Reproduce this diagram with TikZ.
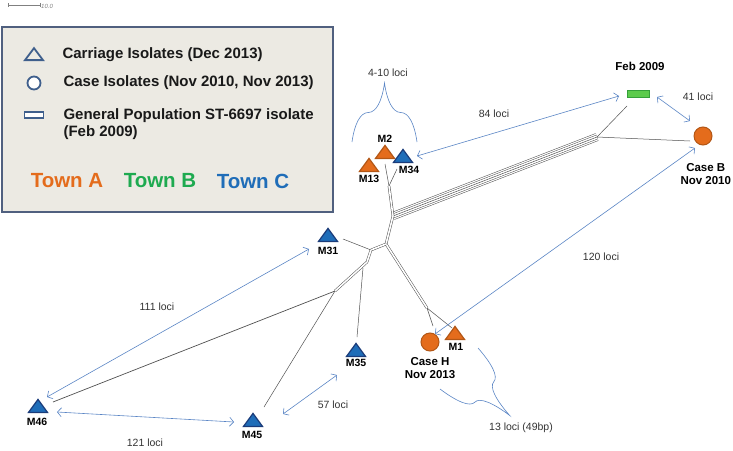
\documentclass[tikz,border=0pt]{standalone}
\usepackage{fontspec}
\setmainfont{Liberation Sans}
\usetikzlibrary{shapes.geometric,arrows.meta,decorations.pathreplacing}
\definecolor{legendbg}{HTML}{ECEAE3}
\definecolor{legendframe}{HTML}{50607F}
\definecolor{symframe}{HTML}{3F5F8C}
\definecolor{towna}{HTML}{E46C1C}
\definecolor{townadark}{HTML}{B35716}
\definecolor{townb}{HTML}{1EAA50}
\definecolor{townc}{HTML}{1F6DB8}
\definecolor{towncdark}{HTML}{1B3C7A}
\definecolor{febgreen}{HTML}{5CCB4C}
\definecolor{febdark}{HTML}{35A03A}
\definecolor{arrowblue}{HTML}{5A85C5}
\definecolor{splitgray}{HTML}{505050}

\begin{document}
\begin{tikzpicture}
    [x=1pt, y=-1pt,
    tri/.style={isosceles triangle, isosceles triangle apex angle=70,
        isosceles triangle stretches, shape border rotate=90,
        minimum width=19pt, minimum height=13pt, inner sep=0pt,
        anchor=lower side, line width=1.2pt},
    towna tri/.style={tri, fill=towna, draw=townadark},
    townc tri/.style={tri, fill=townc, draw=towncdark},
    case/.style={circle, minimum size=18pt, inner sep=0pt, fill=towna,
        draw=townadark, line width=1pt},
    mlabel/.style={font=\fontsize{10.5}{12}\selectfont\bfseries},
    caselabel/.style={font=\fontsize{11.5}{13.5}\selectfont\bfseries, align=center},
    loci/.style={font=\fontsize{10.5}{12}\selectfont, text=black!80},
    legendtext/.style={font=\fontsize{15}{17}\selectfont\bfseries, anchor=west,
        align=left, text=black!90},
    towntext/.style={font=\fontsize{20.5}{23}\selectfont\bfseries},
    split/.style={draw=splitgray, line width=0.5pt},
    band/.style={split, double=white, double distance=1.6pt},
    distarrow/.style={draw=arrowblue, line width=0.6pt,
        {Straight Barb[length=4pt,width=9pt]}-{Straight Barb[length=4pt,width=9pt]}},
    lociBrace/.style={draw=arrowblue, line width=0.6pt, decorate}]
    \useasboundingbox (0,0) rectangle (733,450);
    % scale bar
    \draw[gray, line width=0.4pt] (8,5) -- (40,5);
    \draw[gray, line width=0.4pt] (8,3) -- (8,7);
    \draw[gray, line width=0.4pt] (40,3) -- (40,7);
    \node[anchor=west, inner sep=0pt, text=gray, font=\fontsize{6}{7}\selectfont\itshape]
        (scale) at (41,6) {10.0};
    % legend
    \draw[fill=legendbg, draw=legendframe, line width=2pt] (1.5,27) rectangle (333,212);
    \node[tri, draw=symframe, fill=legendbg, minimum width=18pt, minimum height=12pt,
        line width=1.8pt] (keytri) at (34,61) {};
    \node[circle, draw=symframe, fill=white, minimum size=13pt, inner sep=0pt,
        line width=1.8pt] (keycirc) at (34,83) {};
    \node[draw=symframe, fill=white, minimum width=19pt, minimum height=6pt,
        inner sep=0pt, line width=1.8pt] (keyrect) at (34,115) {};
    \node[legendtext] (carriage) at (59,55) {Carriage Isolates (Dec 2013)};
    \node[legendtext] (caseiso) at (60,83) {Case Isolates (Nov 2010, Nov 2013)};
    \node[legendtext] (genpop) at (60,124) {General Population ST-6697 isolate\\(Feb 2009)};
    \node[towntext, text=towna] (towna) at (67,181) {Town A};
    \node[towntext, text=townb] (townb) at (160,181) {Town B};
    \node[towntext, text=townc] (townc) at (253,181) {Town C};
    % isolates
    \node[towna tri] (m2) at (385,159) {};
    \node[towna tri] (m13) at (369,172) {};
    \node[townc tri] (m34) at (403,163) {};
    \node[townc tri] (m31) at (328,242) {};
    \node[townc tri] (m35) at (356,357) {};
    \node[towna tri] (m1) at (455,340) {};
    \node[townc tri] (m46) at (38,413) {};
    \node[townc tri] (m45) at (253,427) {};
    \node[case] (caseh) at (430,342) {};
    \node[case] (caseb) at (703,136) {};
    \node[draw=febdark, fill=febgreen, minimum width=22pt, minimum height=7pt,
        inner sep=0pt, line width=1pt] (feb) at (638,94) {};
    % labels
    \node[mlabel] (m2lab) at (385,139) {M2};
    \node[mlabel] (m13lab) at (369,179) {M13};
    \node[mlabel] (m34lab) at (409,170) {M34};
    \node[mlabel] (m31lab) at (328,251) {M31};
    \node[mlabel] (m35lab) at (356,363) {M35};
    \node[mlabel] (m1lab) at (456,347) {M1};
    \node[mlabel] (m46lab) at (37,422) {M46};
    \node[mlabel] (m45lab) at (252,435) {M45};
    \node[caselabel] (casehlab) at (430,368) {Case H\\Nov 2013};
    \node[caselabel, anchor=west] (caseblab) at (677,174) {Case B\\Nov 2010};
    \node[caselabel] (feblab) at (640,66) {Feb 2009};
    % split network
    \coordinate (hub) at (393,216);
    \coordinate (rj) at (597,137);
    \coordinate (febleaf) at (627,106);
    \coordinate (cbleaf) at (690,141);
    \coordinate (cj) at (389,186);
    \coordinate (m2leaf) at (385,164);
    \coordinate (m34leaf) at (397,169);
    \coordinate (h2) at (386,244);
    \coordinate (jj) at (427,308);
    \coordinate (chleaf) at (433,326);
    \coordinate (m1leaf) at (452,328);
    \coordinate (kk) at (371,250);
    \coordinate (m31leaf) at (343,239);
    \coordinate (k2) at (367,262);
    \coordinate (m35j) at (363,268);
    \coordinate (m35leaf) at (357,337);
    \coordinate (qq) at (335,291);
    \coordinate (m46leaf) at (53,402);
    \coordinate (m45leaf) at (264,407);
    \draw[split, double=white, double distance=7pt] (hub) -- (rj);
    \draw[split, double=white, double distance=3.5pt] (hub) -- (rj);
    \draw[split] (hub) -- (rj);
    \draw[split] (rj) -- (febleaf);
    \draw[split] (rj) -- (cbleaf);
    \draw[band] (hub) -- (cj);
    \draw[split] (cj) -- (m2leaf);
    \draw[split] (cj) -- (m34leaf);
    \draw[band] (hub) -- (h2);
    \draw[band] (h2) -- (jj);
    \draw[split] (jj) -- (chleaf);
    \draw[split] (jj) -- (m1leaf);
    \draw[band] (h2) -- (kk);
    \draw[split] (kk) -- (m31leaf);
    \draw[band] (kk) -- (k2);
    \draw[band] (k2) -- (qq);
    \draw[split] (m35j) -- (m35leaf);
    \draw[split, line width=0.7pt] (qq) -- (m46leaf);
    \draw[split] (qq) -- (m45leaf);
    % distances
    \coordinate (a84s) at (417,156);
    \coordinate (a84e) at (619,96);
    \coordinate (a41s) at (657,97);
    \coordinate (a41e) at (690,121);
    \coordinate (a120s) at (435,334);
    \coordinate (a120e) at (695,148);
    \coordinate (a111s) at (47,397);
    \coordinate (a111e) at (309,249);
    \coordinate (a121s) at (57,412);
    \coordinate (a121e) at (234,422);
    \coordinate (a57s) at (283,414);
    \coordinate (a57e) at (337,375);
    \draw[distarrow] (a84s) -- (a84e);
    \draw[distarrow] (a41s) -- (a41e);
    \draw[distarrow] (a120s) -- (a120e);
    \draw[distarrow] (a111s) -- (a111e);
    \draw[distarrow] (a121s) -- (a121e);
    \draw[distarrow] (a57s) -- (a57e);
    \node[loci] (l84) at (494,114) {84 loci};
    \node[loci] (l41) at (698,97) {41 loci};
    \node[loci] (l120) at (601,257) {120 loci};
    \node[loci] (l111) at (157,307) {111 loci};
    \node[loci] (l121) at (145,443) {121 loci};
    \node[loci] (l57) at (333,405) {57 loci};
    % braces
    \coordinate (b1s) at (352,142);
    \coordinate (b1e) at (417,142);
    \coordinate (b2s) at (478,348);
    \coordinate (b2e) at (440,389);
    \draw[lociBrace, decoration={brace, amplitude=59pt}] (b1s) -- (b1e);
    \draw[lociBrace, decoration={brace, amplitude=69pt}] (b2s) -- (b2e);
    \node[loci] (l410) at (388,73) {4-10 loci};
    \node[loci] (l13) at (521,428) {13 loci (49bp)};
\end{tikzpicture}
\end{document}
